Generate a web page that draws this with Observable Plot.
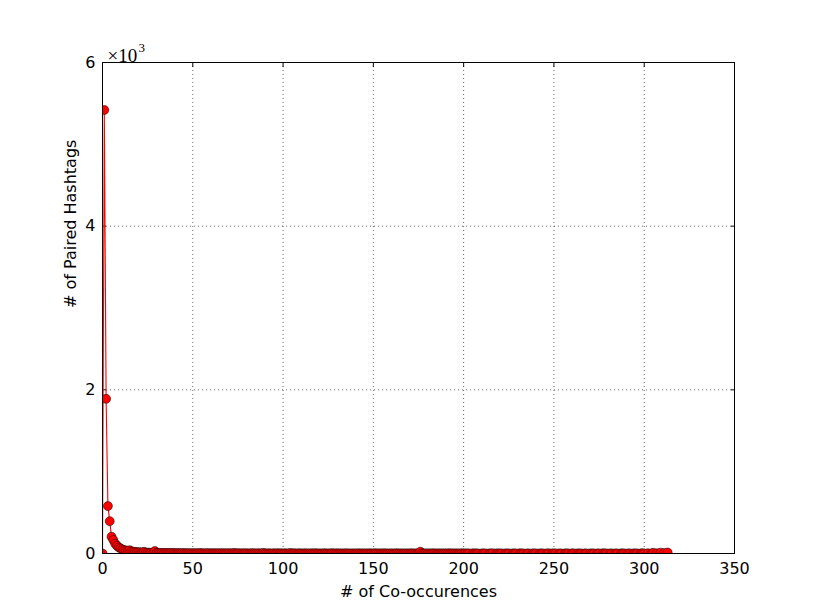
<!DOCTYPE html>
<html><head><meta charset="utf-8">
<script src="https://cdn.jsdelivr.net/npm/d3@7"></script>
<script src="https://cdn.jsdelivr.net/npm/@observablehq/plot@0.6"></script>
<style>body{margin:0;background:#fff}</style>
</head><body><div id="chart"></div>
<script>
const cooccurrences = [
0,1,2,3,4,5,6,7,8,9,
10,11,12,13,14,15,16,17,18,19,
20,21,22,23,24,25,26,27,28,29,
30,31,32,33,34,35,36,37,38,39,
40,41,42,43,44,45,46,47,48,49,
50,51,52,53,54,55,56,57,58,59,
60,61,62,63,64,65,66,67,68,69,
70,71,72,73,74,75,76,77,78,79,
80,81,82,83,84,85,86,87,88,89,
90,91,92,93,94,95,96,97,98,99,
100,101,102,103,104,105,106,107,108,109,
110,111,112,113,114,115,116,117,118,119,
120,121,122,123,124,125,126,127,128,129,
130,131,132,133,134,135,136,137,138,139,
140,141,142,143,144,145,146,147,148,149,
150,151,152,153,154,155,156,157,158,159,
160,161,162,163,164,165,166,167,168,169,
170,171,172,173,174,175,176,177,178,179,
180,181,182,183,184,185,186,187,188,189,
190,191,192,193,194,195,196,197,198,199,
200,201,202,203,205,206,207,208,210,211,
212,214,215,216,218,219,220,221,223,224,
225,227,228,229,231,232,233,235,236,238,
239,240,242,243,244,246,247,249,250,251,
253,254,256,257,258,260,261,263,264,265,
267,268,270,271,272,274,275,277,278,279,
281,282,284,285,287,288,289,291,292,294,
295,296,298,299,300,302,304,305,307,309,
311,313];
const pairedHashtags = [
0,5420,1890,580,395,205,165,120,95,75,
62,50,42,36,32,40,26,22,19,17,
15,14,12,20,11,10,9,9,8,30,
8,7,7,6,6,7,5,5,6,5,
5,4,6,4,4,5,3,4,4,3,
3,4,3,3,5,3,2,3,3,4,
2,3,3,2,2,4,2,3,2,2,
3,2,2,6,2,2,3,1,2,2,
2,1,2,2,3,1,2,2,1,6,
2,1,2,1,1,2,1,3,1,2,
1,2,1,1,5,1,2,1,1,2,
1,1,2,1,1,1,2,1,3,1,
1,1,1,2,1,1,1,4,1,1,
2,1,1,1,1,2,1,1,1,1,
1,1,2,1,1,1,1,1,2,1,
1,3,1,1,1,1,2,1,1,1,
1,1,1,2,1,1,1,1,1,1,
1,2,1,1,1,1,22,1,1,1,
1,1,1,2,1,1,1,1,1,1,
1,1,2,1,1,1,1,1,1,2,
1,1,1,1,2,1,1,1,1,1,
1,1,1,2,1,1,1,1,1,1,
1,1,1,1,2,1,1,1,1,1,
1,1,1,1,1,1,2,1,1,1,
1,1,1,1,1,2,1,1,1,1,
1,1,1,1,1,1,1,2,1,1,
1,1,1,1,1,1,1,1,1,1,
1,1,1,2,1,3,1,8,2,10,
6,12];
const xTicks = [0,50,100,150,200,250,300,350];
const yTicks = [0,2000,4000,6000];
const yTickLabels = ["0","2","4","6"];
const xGrid = [50,100,150,200,250,300];
const yGrid = [2000,4000];
const offsetBase = "×10";
const offsetExp = "3";
const xLabel = "# of Co-occurences";
const yLabel = "# of Paired Hashtags";

const data = cooccurrences.map((x, i) => ({x, y: pairedHashtags[i]}));

const chart = Plot.plot({
  width: 815, height: 615,
  marginLeft: 102, marginRight: 81, marginTop: 62, marginBottom: 62,
  style: {fontFamily: "DejaVu Sans", fontSize: "16px", color: "black", background: "white"},
  x: {domain: [0, 350]},
  y: {domain: [0, 6000]},
  marks: [
    Plot.gridX(xGrid, {stroke: "black", strokeOpacity: 1, strokeWidth: 0.6, strokeDasharray: "1,3"}),
    Plot.gridY(yGrid, {stroke: "black", strokeOpacity: 1, strokeWidth: 0.6, strokeDasharray: "1,3"}),
    Plot.axisX(xTicks, {anchor: "bottom", tickSize: -4, tickPadding: 13, label: null, fontSize: 16}),
    Plot.axisX(xTicks, {anchor: "top", tickSize: -4, label: null, tickFormat: () => ""}),
    Plot.axisY(yTicks, {anchor: "left", tickSize: -4, tickPadding: 11, label: null, fontSize: 16,
      tickFormat: (d) => yTickLabels[yTicks.indexOf(d)]}),
    Plot.axisY(yTicks, {anchor: "right", tickSize: -4, label: null, tickFormat: () => ""}),
    Plot.line(data, {x: "x", y: "y", stroke: "red", strokeWidth: 1.1, clip: true}),
    Plot.dot(data, {x: "x", y: "y", r: 4.5, fill: "red", stroke: "black", strokeWidth: 0.5, clip: true}),
    Plot.frame({stroke: "black", strokeWidth: 1}),
    Plot.text([xLabel], {frameAnchor: "bottom", dy: 43, fontSize: 16}),
    Plot.text([yLabel], {frameAnchor: "left", dx: -32, rotate: -90, fontSize: 16}),
    Plot.text([offsetBase], {frameAnchor: "top-left", textAnchor: "start", dx: 5, dy: -14,
      fontSize: 19, fontFamily: "Liberation Serif"}),
    Plot.text([offsetExp], {frameAnchor: "top-left", textAnchor: "start", dx: 36, dy: -20,
      fontSize: 13, fontFamily: "Liberation Serif"})
  ]
});
document.getElementById("chart").appendChild(chart);
</script>
</body></html>
